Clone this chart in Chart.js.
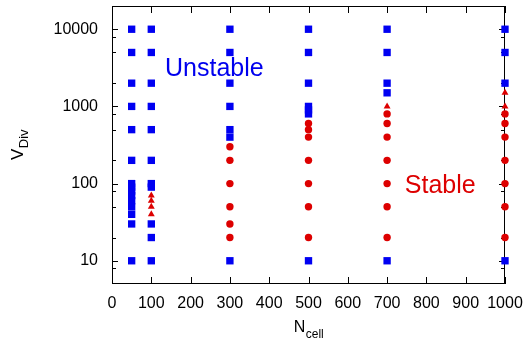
<!DOCTYPE html>
<html>
<head>
<meta charset="utf-8">
<script src="https://cdn.jsdelivr.net/npm/chart.js@4/dist/chart.umd.min.js"></script>
<style>
  html, body { margin: 0; padding: 0; background: #fff; }
  #chart_block { width: 527px; height: 341px; }
</style>
</head>
<body>
<div id="chart_block"><canvas id="stability" width="527" height="341"></canvas></div>
<script>
  // N_cell columns
  var nCells = [50, 100, 300, 500, 700, 1000];
  // V_Div values per column (same order as nCells)
  var unstableV = [
    [10, 30, 40, 50, 60, 70, 80, 90, 100, 200, 500, 1000, 2000, 5000, 10000],
    [10, 20, 30, 90, 100, 200, 500, 1000, 2000, 5000, 10000],
    [10, 400, 500, 1000, 2000, 5000, 10000],
    [10, 800, 900, 1000, 2000, 5000, 10000],
    [10, 1500, 2000, 5000, 10000],
    [10, 2000, 5000, 10000]
  ];
  var stableV = [
    [],
    [],
    [20, 30, 50, 100, 200, 300],
    [20, 50, 100, 200, 400, 500, 600],
    [20, 50, 100, 200, 400, 600, 800],
    [20, 50, 100, 200, 400, 600, 800]
  ];
  var marginalV = [
    [],
    [40, 50, 60, 70],
    [],
    [],
    [1000],
    [1000, 1500]
  ];
  var xTicks = [0, 100, 200, 300, 400, 500, 600, 700, 800, 900, 1000];
  var yTicks = [10, 100, 1000, 10000];
  var yMinor = [8, 20, 50, 80, 200, 500, 800, 2000, 5000, 8000];
  // region labels, anchored in data units
  var regionLabels = [
    { text: 'Unstable', n: 135, v: 2500, color: '#0000ee' },
    { text: 'Stable', n: 745, v: 76, color: '#dd0000' }
  ];

  var BLUE = '#0000f2';
  var RED = '#dd0000';
  var FONT = '"Liberation Sans", Arial, Helvetica, sans-serif';

  function toPoints(groups) {
    var pts = [];
    groups.forEach(function (vals, i) {
      vals.forEach(function (v) { pts.push({ x: nCells[i], y: v }); });
    });
    return pts;
  }

  var frame = {
    id: 'frame',
    beforeDatasetsDraw: function (chart) {
      var ctx = chart.ctx, a = chart.chartArea;
      var x = chart.scales.x, y = chart.scales.y;
      ctx.save();
      ctx.strokeStyle = '#000';
      ctx.lineWidth = 1;
      ctx.strokeRect(a.left + 0.5, a.top + 0.5, a.right - a.left - 1, a.bottom - a.top - 1);
      ctx.beginPath();
      xTicks.forEach(function (t) {
        var px = Math.round(x.getPixelForValue(t)) + 0.5;
        ctx.moveTo(px, a.bottom); ctx.lineTo(px, a.bottom - 7);
        ctx.moveTo(px, a.top); ctx.lineTo(px, a.top + 7);
      });
      yTicks.forEach(function (t) {
        var py = Math.round(y.getPixelForValue(t)) + 0.5;
        ctx.moveTo(a.left, py); ctx.lineTo(a.left + 6, py);
        ctx.moveTo(a.right, py); ctx.lineTo(a.right - 6, py);
      });
      yMinor.forEach(function (t) {
        var py = Math.round(y.getPixelForValue(t)) + 0.5;
        ctx.moveTo(a.left, py); ctx.lineTo(a.left + 4, py);
        ctx.moveTo(a.right, py); ctx.lineTo(a.right - 4, py);
      });
      ctx.stroke();
      ctx.restore();
    },
    afterDraw: function (chart) {
      var ctx = chart.ctx, a = chart.chartArea;
      var x = chart.scales.x, y = chart.scales.y;
      ctx.save();
      // region labels
      ctx.font = '25px ' + FONT;
      ctx.textBaseline = 'alphabetic';
      ctx.textAlign = 'left';
      regionLabels.forEach(function (l) {
        ctx.fillStyle = l.color;
        ctx.fillText(l.text, x.getPixelForValue(l.n), y.getPixelForValue(l.v));
      });
      // x title: N_cell
      ctx.fillStyle = '#000';
      ctx.font = '16px ' + FONT;
      var wN = ctx.measureText('N').width;
      ctx.font = '12px ' + FONT;
      var wSub = ctx.measureText('cell').width;
      var cx = (a.left + a.right) / 2;
      var x0 = cx - (wN + wSub) / 2;
      ctx.font = '16px ' + FONT;
      ctx.fillText('N', x0, 332);
      ctx.font = '12px ' + FONT;
      ctx.fillText('cell', x0 + wN + 0.5, 338);
      // y title: V_Div (rotated)
      ctx.translate(23, (a.top + a.bottom) / 2);
      ctx.rotate(-Math.PI / 2);
      ctx.font = '17px ' + FONT;
      var wV = ctx.measureText('V').width;
      ctx.font = '13px ' + FONT;
      var wD = ctx.measureText('Div').width;
      var y0 = -(wV + wD) / 2;
      ctx.font = '17px ' + FONT;
      ctx.fillText('V', y0, 0);
      ctx.font = '13px ' + FONT;
      ctx.fillText('Div', y0 + wV + 0.5, 5);
      ctx.restore();
    }
  };

  var ctx = document.getElementById('stability');
  var myChart = new Chart(ctx, {
    type: 'scatter',
    data: {
      datasets: [
        {
          label: 'Marginal',
          data: toPoints(marginalV),
          pointStyle: 'triangle',
          pointRadius: 4,
          backgroundColor: RED,
          borderColor: RED,
          borderWidth: 0,
          clip: false
        },
        {
          label: 'Stable',
          data: toPoints(stableV),
          pointStyle: 'circle',
          pointRadius: 3.7,
          backgroundColor: RED,
          borderColor: RED,
          borderWidth: 0,
          clip: false
        },
        {
          label: 'Unstable',
          data: toPoints(unstableV),
          pointStyle: 'rect',
          pointRadius: 5.2,
          backgroundColor: BLUE,
          borderColor: BLUE,
          borderWidth: 0,
          clip: false
        }
      ]
    },
    options: {
      responsive: false,
      animation: false,
      events: [],
      layout: { padding: { top: 6, right: 22, left: 0, bottom: 0 } },
      plugins: { legend: { display: false }, tooltip: { enabled: false } },
      scales: {
        x: {
          type: 'linear',
          min: 0,
          max: 1000,
          afterFit: function (s) {
            s.height = 57;
            s.paddingLeft = 0; s.paddingRight = 0;
          },
          afterBuildTicks: function (s) { s.ticks = xTicks.map(function (v) { return { value: v }; }); },
          grid: { display: false, drawTicks: false },
          border: { display: false },
          ticks: {
            autoSkip: false,
            maxRotation: 0,
            padding: 10,
            color: '#000',
            font: { family: FONT, size: 16 },
            callback: function (v) { return String(v); }
          }
        },
        y: {
          type: 'logarithmic',
          min: 5,
          max: 20000,
          afterFit: function (s) {
            s.width = 112;
            s.paddingTop = 0; s.paddingBottom = 0;
          },
          afterBuildTicks: function (s) { s.ticks = yTicks.map(function (v) { return { value: v }; }); },
          grid: { display: false, drawTicks: false },
          border: { display: false },
          ticks: {
            autoSkip: false,
            padding: 14,
            color: '#000',
            font: { family: FONT, size: 16 },
            callback: function (v) { return String(v); }
          }
        }
      }
    },
    plugins: [frame]
  });
</script>
</body>
</html>
